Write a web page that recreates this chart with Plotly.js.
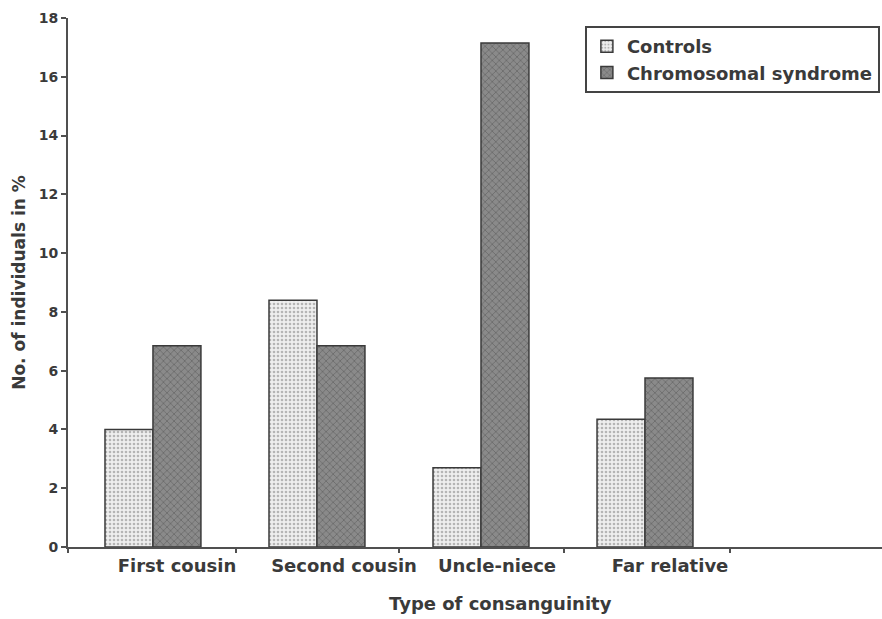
<!DOCTYPE html>
<html>
<head>
<meta charset="utf-8">
<script src="https://cdn.plot.ly/plotly-3.0.1.min.js"></script>
<style>html,body{margin:0;padding:0;background:#fff;}#chart{width:882px;height:619px;}</style>
</head>
<body>
<div id="chart"></div>
<script>
// Data
const categories = ["First cousin", "Second cousin", "Uncle-niece", "Far relative"];
const controls = [4.0, 8.4, 2.7, 4.35];
const chromosomal = [6.85, 6.85, 17.15, 5.75];
const seriesNames = ["Controls", "Chromosomal syndrome"];
const xTitle = "Type of consanguinity";
const yTitle = "No. of individuals in %";
// Tick scale of the original drawing (separate from bar categories)
const tickMarkVals = [68, 236, 399, 564, 730];
const labelVals = [177, 344, 497, 670];
const yTicks = [0, 2, 4, 6, 8, 10, 12, 14, 16, 18];

const font = "DejaVu Sans, Verdana, sans-serif";
const txt = "#3a3a3a";

const traces = [
  {
    type: "bar", x: [0, 1, 2, 3], y: controls, name: seriesNames[0],
    marker: {color: "#ededed", line: {color: "#3a3a3a", width: 1.5},
      pattern: {shape: ".", bgcolor: "#efefef", fgcolor: "#b5b5b5", size: 4, solidity: 0.35}},
    xaxis: "x", yaxis: "y"
  },
  {
    type: "bar", x: [0, 1, 2, 3], y: chromosomal, name: seriesNames[1],
    marker: {color: "#858585", line: {color: "#3a3a3a", width: 1.5},
      pattern: {shape: "x", bgcolor: "#8a8a8a", fgcolor: "#6a6a6a", size: 5, solidity: 0.3}},
    xaxis: "x", yaxis: "y"
  }
];

const layout = {
  width: 882, height: 619,
  margin: {l: 68, r: 0, t: 18, b: 72},
  paper_bgcolor: "#fff", plot_bgcolor: "#fff",
  barmode: "group", bargap: 0.415, bargroupgap: 0,
  showlegend: true,
  legend: {
    x: 0.635, y: 0.985, xanchor: "left", yanchor: "top",
    bordercolor: "#444", borderwidth: 2, bgcolor: "rgba(255,255,255,0)",
    font: {family: font, size: 18, color: txt, weight: "bold"},
    itemwidth: 30, tracegroupgap: 0
  },
  xaxis: {
    type: "linear", range: [-0.518, 4.445],
    showticklabels: false, ticks: "", showgrid: false, zeroline: false,
    showline: true, linecolor: "#505050", linewidth: 2
  },
  xaxis2: {
    overlaying: "x", anchor: "y", side: "bottom", type: "linear",
    range: [68, 882], tickmode: "array", tickvals: tickMarkVals,
    showticklabels: false, ticks: "outside", ticklen: 5, tickwidth: 2, tickcolor: "#505050",
    showgrid: false, zeroline: false, showline: false
  },
  xaxis3: {
    overlaying: "x", anchor: "y", side: "bottom", type: "linear",
    range: [68, 882], tickmode: "array", tickvals: labelVals, ticktext: categories,
    ticks: "", ticklabelstandoff: 6,
    tickfont: {family: font, size: 18, color: txt, weight: "bold"},
    showgrid: false, zeroline: false, showline: false
  },
  yaxis: {
    range: [0, 18], tickmode: "array", tickvals: yTicks,
    ticks: "outside", ticklen: 5, tickwidth: 2, tickcolor: "#505050",
    showgrid: false, zeroline: false,
    showline: true, linecolor: "#505050", linewidth: 2,
    tickfont: {family: font, size: 14, color: txt, weight: "bold"},
    title: {text: yTitle, standoff: 9,
      font: {family: font, size: 17, color: txt, weight: "bold"}}
  },
  annotations: [{
    text: xTitle, xref: "paper", yref: "paper", x: 0.531, y: -0.106,
    xanchor: "center", yanchor: "middle", showarrow: false,
    font: {family: font, size: 18, color: txt, weight: "bold"}
  }]
};

// empty helper traces so the overlay axes are created
traces.push({type: "scatter", x: [], y: [], xaxis: "x2", yaxis: "y", showlegend: false, hoverinfo: "skip"});
traces.push({type: "scatter", x: [], y: [], xaxis: "x3", yaxis: "y", showlegend: false, hoverinfo: "skip"});

Plotly.newPlot("chart", traces, layout, {displayModeBar: false, staticPlot: true});
</script>
</body>
</html>
